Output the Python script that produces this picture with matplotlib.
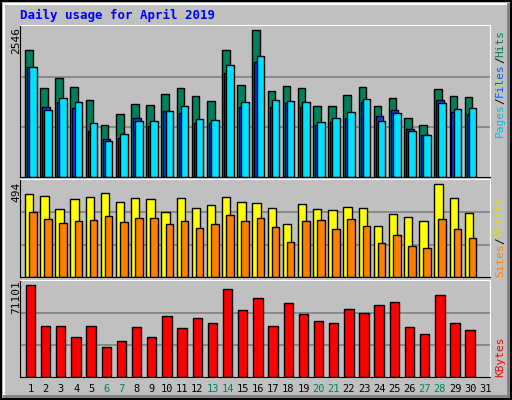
import matplotlib
matplotlib.use("Agg")
import matplotlib.pyplot as plt
from matplotlib.patches import Rectangle

days = list(range(1, 32))
weekend = [6, 7, 13, 14, 20, 21, 27, 28]

hits = [2150, 1506, 1681, 1523, 1302, 877, 1064, 1234, 1217, 1404, 1506, 1370, 1285, 2150, 1557,
        2490, 1455, 1540, 1506, 1200, 1200, 1387, 1523, 1200, 1336, 996, 877, 1489, 1370, 1353]
files = [1862, 1183, 1268, 1166, 775, 640, 657, 996, 860, 1115, 1081, 911, 911, 1760, 1183,
         1947, 1183, 1251, 1183, 877, 928, 996, 1268, 1030, 1132, 809, 708, 1302, 1098, 1064]
pages = [1862, 1132, 1336, 1268, 911, 606, 724, 945, 945, 1115, 1200, 979, 962, 1896, 1268,
         2049, 1302, 1285, 1268, 928, 996, 1098, 1319, 945, 1081, 775, 708, 1251, 1149, 1166]
visits = [422, 412, 345, 396, 406, 427, 381, 401, 396, 329, 401, 350, 365, 406, 381,
          376, 350, 268, 370, 345, 340, 355, 350, 262, 319, 304, 283, 473, 401, 324]
sites = [329, 293, 273, 283, 288, 309, 278, 298, 298, 268, 283, 252, 268, 314, 283,
         298, 257, 180, 283, 288, 242, 293, 262, 175, 216, 159, 149, 293, 242, 201]
kbytes = [68110, 37420, 37420, 29940, 37420, 22450, 26940, 36670, 29940, 44910, 35930, 43410, 39670, 65120, 49400,
          58380, 37420, 54640, 46400, 41170, 39670, 50150, 47150, 53140, 55390, 36670, 32180, 60630, 39670, 34430]

max_hits = 2546
max_visits = 494
max_kb = 71101

W, H = 512, 400
fig = plt.figure(figsize=(W / 100, H / 100), dpi=100)
fig.patch.set_facecolor("#C0C0C0")
mono = "DejaVu Sans Mono"

# bevelled border
bg = fig.add_axes([0, 0, 1, 1])
bg.set_xlim(0, W); bg.set_ylim(H, 0); bg.axis("off")
bg.add_patch(Rectangle((1, 1), W - 2, H - 2, fill=False, ec="black", lw=1.5))
bg.plot([4, W - 4], [4, 4], color="white", lw=1.5)
bg.plot([4, 4], [4, H - 4], color="white", lw=1.5)
bg.plot([4, W - 4], [H - 4, H - 4], color="#808080", lw=2)
bg.plot([W - 4, W - 4], [4, H - 4], color="#808080", lw=2)


def panel(top, bottom):
    ax = fig.add_axes([20 / W, 1 - bottom / H, 470 / W, (bottom - top) / H])
    ax.set_facecolor("#C0C0C0")
    ax.set_xlim(0, 31)
    ax.set_xticks([]); ax.set_yticks([])
    for s in ["top", "right"]:
        ax.spines[s].set_color("white")
    for s in ["left", "bottom"]:
        ax.spines[s].set_color("black")
    return ax


def grid(ax, m):
    for f in (1 / 3, 2 / 3):
        ax.axhline(m * f, color="#808080", lw=1.2, zorder=0)
    ax.set_ylim(0, m * 1.01)


x = [d - 1 for d in days[:30]]

ax1 = panel(25, 177)
grid(ax1, max_hits)
ax1.bar([i + 0.33 for i in x], hits, width=0.5, align="edge", color="#00805C", ec="black", lw=1)
ax1.bar([i + 0.46 for i in x], files, width=0.5, align="edge", color="#0040FF", ec="black", lw=1)
ax1.bar([i + 0.6 for i in x], pages, width=0.5, align="edge", color="#00E0FF", ec="black", lw=1)

ax2 = panel(179, 277)
grid(ax2, max_visits)
ax2.bar([i + 0.33 for i in x], visits, width=0.55, align="edge", color="#FFFF00", ec="black", lw=1)
ax2.bar([i + 0.6 for i in x], sites, width=0.5, align="edge", color="#FF8000", ec="black", lw=1)

ax3 = panel(280, 377)
grid(ax3, max_kb)
ax3.bar([i + 0.38 for i in x], kbytes, width=0.62, align="edge", color="#FF0000", ec="black", lw=1)

fig.text(20 / W, 1 - 15 / H, "Daily usage for April 2019", color="#0000FF", family=mono,
         fontweight="bold", fontsize=9, va="center")
fig.text(16 / W, 1 - 40 / H, str(max_hits), rotation=90, family=mono, fontsize=8, ha="center", va="center")
fig.text(16 / W, 1 - 192 / H, str(max_visits), rotation=90, family=mono, fontsize=8, ha="center", va="center")
fig.text(16 / W, 1 - 297 / H, str(max_kb), rotation=90, family=mono, fontsize=8, ha="center", va="center")

# right side labels
def rlabel(parts, y0):
    y = y0
    for txt, col in parts:
        t = fig.text(500 / W, 1 - y / H, txt, rotation=90, family=mono, fontsize=8,
                     color=col, ha="center", va="bottom")
        y -= len(txt) * 6.7
rlabel([("Pages", "#00C0E0"), ("/", "black"), ("Files", "#0060FF"), ("/", "black"), ("Hits", "#00805C")], 137)
rlabel([("Sites", "#FF8000"), ("/", "black"), ("Visits", "#E0E000")], 277)
rlabel([("KBytes", "#FF0000")], 377)

for d in days:
    col = "#00805C" if d in weekend else "black"
    fig.text((20 + (d - 0.5) * 470 / 31 + 3) / W, 1 - 389 / H, str(d), color=col, family=mono,
             fontsize=7.5, ha="center", va="center")

fig.savefig("out.png", dpi=100, facecolor=fig.get_facecolor())
